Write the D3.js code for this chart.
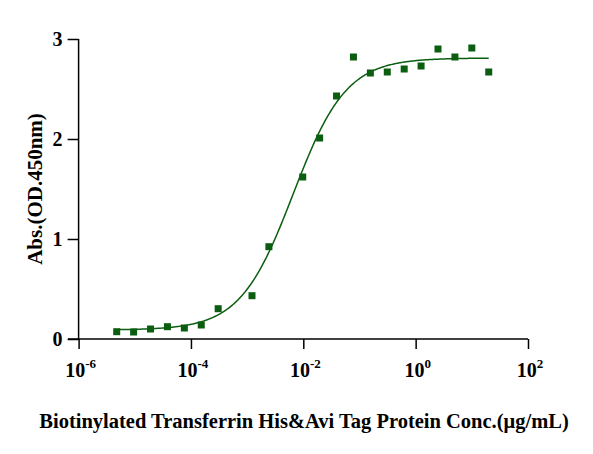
<!DOCTYPE html><html><head><meta charset="utf-8">
<script src="https://cdn.jsdelivr.net/npm/d3@7"></script>
<style>body{margin:0;background:#fff}text{font-family:"Liberation Serif","Times New Roman",serif;font-weight:bold}</style>
</head><body><svg id="c" width="593" height="454"></svg>
<script>
const conc=[4.768e-6,9.537e-6,1.907e-5,3.815e-5,7.629e-5,1.526e-4,3.052e-4,1.221e-3,2.441e-3,9.766e-3,1.953e-2,3.906e-2,7.813e-2,0.1563,0.3125,0.625,1.25,2.5,5,10,20];
const absVals=[0.073,0.07,0.10,0.123,0.11,0.14,0.303,0.433,0.923,1.62,2.01,2.43,2.82,2.66,2.67,2.70,2.73,2.90,2.82,2.91,2.67];
const xTickExp=[-6,-4,-2,0,2];
const yTicks=[0,1,2,3];
// 4PL fit parameters
const fitBottom=0.09,fitTop=2.81,fitEC50=0.0066,fitHill=0.92;
const svg=d3.select("#c");
const x=d3.scaleLog().domain([1e-6,1e2]).range([78.6,528]);
const y=d3.scaleLinear().domain([0,3]).range([339,39]);
const col="#0b5e10";
const xa=svg.append("g").attr("transform","translate(0,339)")
 .call(d3.axisBottom(x).tickValues(xTickExp.map(e=>Math.pow(10,e))).tickFormat("").tickSize(10).tickSizeOuter(0));
xa.select(".domain").attr("d","M68,0H528");
xa.selectAll("line,path").attr("stroke","#000").attr("stroke-width",1.5);
xTickExp.forEach(e=>{
 const t=svg.append("text").attr("x",x(Math.pow(10,e))+2).attr("y",377).attr("text-anchor","middle").attr("font-size",20);
 t.append("tspan").text("10");
 t.append("tspan").attr("dy",-9).attr("font-size",13).text(e<0?"-"+(-e):String(e));
});
const ya=svg.append("g").attr("transform","translate(78.6,0)")
 .call(d3.axisLeft(y).tickValues(yTicks).tickSize(11).tickSizeOuter(0).tickFormat(d3.format("d")));
ya.selectAll("line,path").attr("stroke","#000").attr("stroke-width",1.5);
ya.selectAll("text").attr("font-size",20).attr("dx",-2).attr("fill","#000");
ya.select(".domain").attr("d","M0,339V39");
const xs=d3.range(0,401).map(i=>Math.pow(10,Math.log10(4.768e-6)+i/400*(Math.log10(20)-Math.log10(4.768e-6))));
const f=c=>fitBottom+(fitTop-fitBottom)/(1+Math.pow(fitEC50/c,fitHill));
svg.append("path").attr("d",d3.line().x(d=>x(d)).y(d=>y(f(d)))(xs)).attr("fill","none").attr("stroke",col).attr("stroke-width",1.5);
svg.selectAll("rect.p").data(conc).enter().append("rect").attr("class","p")
 .attr("x",d=>x(d)-3.5).attr("y",(d,i)=>y(absVals[i])-3.5).attr("width",7).attr("height",7).attr("fill",col);
svg.append("text").attr("x",304).attr("y",428).attr("text-anchor","middle").attr("font-size",20.5).text("Biotinylated Transferrin His&Avi Tag Protein Conc.(μg/mL)");
svg.append("text").attr("transform","translate(42,189) rotate(-90)").attr("text-anchor","middle").attr("font-size",21).text("Abs.(OD.450nm)");
</script></body></html>
